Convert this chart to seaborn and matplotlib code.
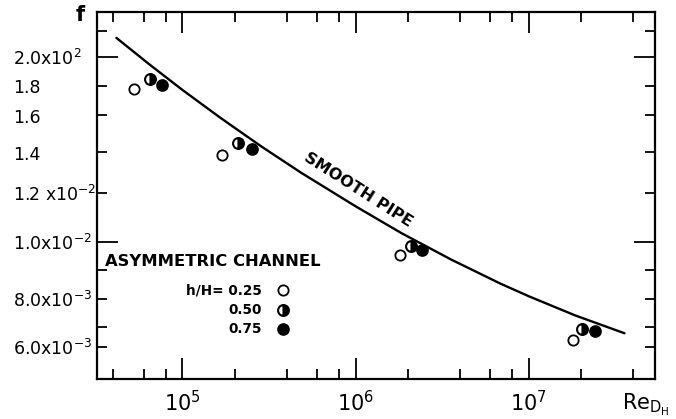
import numpy as np
import matplotlib
matplotlib.use("Agg")
import matplotlib.pyplot as plt
import matplotlib.ticker as mticker
import seaborn as sns

# ---------------- data ----------------
curve_re = [4.16e4, 6.48e4, 1.0e5, 1.661e5, 2.844e5, 4.87e5, 1.0e6, 1.845e6,
            3.562e6, 6.88e6, 1.0e7, 1.847e7, 3.567e7]
curve_f = [0.02145, 0.01945, 0.01772, 0.01586, 0.01432, 0.01295, 0.01142,
           0.01033, 0.00936, 0.008511, 0.008089, 0.00740, 0.00667]

re_025 = [5.22e4, 1.70e5, 1.80e6, 1.81e7]
f_025 = [0.01777, 0.01387, 0.00952, 0.00633]
re_050 = [6.54e4, 2.08e5, 2.08e6, 2.04e7]
f_050 = [0.01844, 0.01450, 0.00985, 0.00688]
re_075 = [7.58e4, 2.51e5, 2.42e6, 2.40e7]
f_075 = [0.01806, 0.01416, 0.00970, 0.00680]

legend_labels = ["h/H= 0.25", "0.50", "0.75"]

x_major = [1e5, 1e6, 1e7]
x_major_labels = [r"$\mathregular{10^{5}}$", r"$\mathregular{10^{6}}$", r"$\mathregular{10^{7}}$"]
y_major = [0.010, 0.020]
y_major_labels = [r"1.0x10$^{\mathregular{-2}}$", r"2.0x10$^{\mathregular{2}}$"]
y_minor = [0.006, 0.007, 0.008, 0.009, 0.012, 0.014, 0.016, 0.018, 0.022]
y_minor_labels = [r"6.0x10$^{\mathregular{-3}}$", "", r"8.0x10$^{\mathregular{-3}}$", "",
                  r"1.2 x10$^{\mathregular{-2}}$", "1.4", "1.6", "1.8", ""]

# ---------------- hand-drawn y-axis calibration (value -> pixel row) ----------------
ycal_f = [0.0047, 0.006, 0.007, 0.008, 0.009, 0.010, 0.012, 0.014, 0.016,
          0.018, 0.020, 0.022, 0.0237]
ycal_row = [379, 347, 327, 299, 270, 242, 193, 152.5, 115.5, 86, 57, 31, 11.7]
_lf = np.log10(ycal_f)
_ly = -np.array(ycal_row, float)


def _fwd(v):
    lv = np.log10(np.maximum(np.asarray(v, float), 1e-12))
    out = np.interp(lv, _lf, _ly)
    lo_s = (_ly[1] - _ly[0]) / (_lf[1] - _lf[0])
    hi_s = (_ly[-1] - _ly[-2]) / (_lf[-1] - _lf[-2])
    out = np.where(lv < _lf[0], _ly[0] + (lv - _lf[0]) * lo_s, out)
    out = np.where(lv > _lf[-1], _ly[-1] + (lv - _lf[-1]) * hi_s, out)
    return out


def _inv(y):
    y = np.asarray(y, float)
    out = np.interp(y, _ly, _lf)
    lo_s = (_lf[1] - _lf[0]) / (_ly[1] - _ly[0])
    hi_s = (_lf[-1] - _lf[-2]) / (_ly[-1] - _ly[-2])
    out = np.where(y < _ly[0], _lf[0] + (y - _ly[0]) * lo_s, out)
    out = np.where(y > _ly[-1], _lf[-1] + (y - _ly[-1]) * hi_s, out)
    return 10 ** out


sns.set_theme(style="ticks")
plt.rcParams["font.family"] = ["DejaVu Sans"]
plt.rcParams["mathtext.fontset"] = "dejavusans"
plt.rcParams["text.color"] = "black"
plt.rcParams["axes.labelcolor"] = "black"
plt.rcParams["xtick.color"] = "black"
plt.rcParams["ytick.color"] = "black"

W, H = 676, 419
fig = plt.figure(figsize=(W / 100, H / 100), dpi=100)
fig.patch.set_facecolor("white")
L, R, T, B = 96.7, 655, 11.7, 379
ax = fig.add_axes([L / W, 1 - B / H, (R - L) / W, (B - T) / H])
ax.set_facecolor("white")

ax.set_xscale("log")
ax.set_yscale("function", functions=(_fwd, _inv))
ax.set_xlim(3.2e4, 5.35e7)
ax.set_ylim(ycal_f[0], ycal_f[-1])

# smooth pipe curve
sns.lineplot(x=curve_re, y=curve_f, color="black", linewidth=1.7, ax=ax,
             estimator=None)

# data points
sns.scatterplot(x=re_025, y=f_025, marker="o", s=55, color="white",
                edgecolor="black", linewidth=1.3, ax=ax, zorder=3)
sns.lineplot(x=re_050, y=f_050, marker="o", linestyle="none", color="black",
             markersize=7.8, fillstyle="right", markerfacecolor="black",
             markerfacecoloralt="white", markeredgecolor="black",
             markeredgewidth=1.5, ax=ax, estimator=None, zorder=3)
sns.scatterplot(x=re_075, y=f_075, marker="o", s=66, color="black",
                edgecolor="black", linewidth=1.0, ax=ax, zorder=3)

# ticks
ax.xaxis.set_major_locator(mticker.FixedLocator(x_major))
ax.xaxis.set_major_formatter(mticker.FixedFormatter(x_major_labels))
ax.xaxis.set_minor_locator(mticker.LogLocator(base=10, subs=(2, 4, 6, 8), numticks=50))
ax.xaxis.set_minor_formatter(mticker.NullFormatter())
ax.set_yticks(y_major, labels=y_major_labels, ha="left")
ax.set_yticks(y_minor, labels=y_minor_labels, minor=True, ha="left")

ax.tick_params(which="both", direction="in", top=True, right=True,
               width=1.3, color="black", labelcolor="black")
ax.tick_params(which="major", length=15)
ax.tick_params(which="minor", length=7)
ax.tick_params(axis="x", which="major", labelsize=15, pad=8)
ax.tick_params(axis="y", which="both", labelsize=12.5, pad=60.5)
for lab in ax.get_yticklabels(which="both"):
    lab.set_horizontalalignment("left")

for sp in ax.spines.values():
    sp.set_linewidth(1.6)
    sp.set_color("black")
    sp.set_visible(True)
ax.grid(False)
ax.set_xlabel("")
ax.set_ylabel("")

# axis titles
fig.text(80 / W, 1 - 15 / H, "f", fontsize=15, ha="center", va="center",
         fontweight="bold", color="black")
fig.text(622 / W, 1 - 405 / H, r"$\mathregular{Re_{D_H}}$", fontsize=15,
         ha="left", va="center", color="black")

# curve label
fig.text(358 / W, 1 - 190 / H, "SMOOTH PIPE", fontsize=11.5, rotation=-32.5,
         rotation_mode="anchor", ha="center", va="center", fontweight="bold",
         color="black")

# legend (drawn manually as in the original)
ax.text(0.0149, 0.321, "ASYMMETRIC CHANNEL", transform=ax.transAxes,
        fontsize=11.8, fontweight="bold", ha="left", va="center", color="black")
leg_y = [0.242, 0.188, 0.136]
for lab, yy in zip(legend_labels, leg_y):
    ax.text(0.296, yy, lab, transform=ax.transAxes, fontsize=9.8,
            fontweight="bold", ha="right", va="center", color="black")
ax.plot([0.334], [leg_y[0]], "o", transform=ax.transAxes, ms=7.4,
        mfc="white", mec="black", mew=1.3, clip_on=False)
ax.plot([0.334], [leg_y[1]], "o", transform=ax.transAxes, ms=7.8,
        fillstyle="right", mfc="black", mfcalt="white", mec="black", mew=1.5,
        clip_on=False)
ax.plot([0.334], [leg_y[2]], "o", transform=ax.transAxes, ms=8.1,
        mfc="black", mec="black", mew=1.0, clip_on=False)

fig.savefig("out.png", dpi=100, facecolor="white")
